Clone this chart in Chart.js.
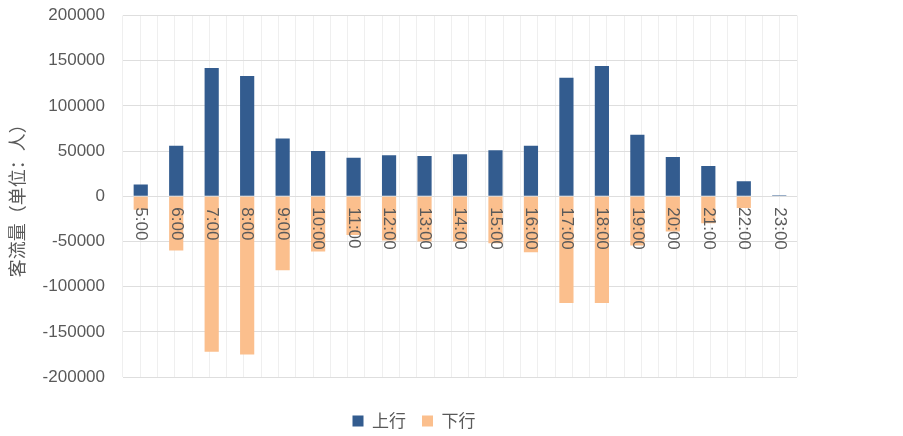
<!DOCTYPE html>
<html>
<head>
<meta charset="utf-8">
<script src="https://cdn.jsdelivr.net/npm/chart.js@4/dist/chart.umd.min.js"></script>
<style>
  html, body { margin: 0; padding: 0; background: #fff; }
  #wrap { width: 903px; height: 436px; }
</style>
</head>
<body>
<div id="wrap"><canvas id="myChart" width="903" height="436"></canvas></div>
<script>
'use strict';

// data
var categories = ['5:00', '6:00', '7:00', '8:00', '9:00', '10:00', '11:00', '12:00', '13:00', '14:00',
  '15:00', '16:00', '17:00', '18:00', '19:00', '20:00', '21:00', '22:00', '23:00'];
var upValues = [13000, 56000, 142000, 133000, 64000, 50000, 42500, 45500, 44500, 46500,
  51000, 56000, 131000, 144000, 68000, 43500, 33500, 16500, 1000];
var downValues = [-15000, -60000, -172000, -175000, -82000, -61000, -43000, -49000, -50000, -50000,
  -52000, -62000, -118000, -118000, -54500, -39000, -30000, -13000, 0];
var seriesNames = ['上行', '下行'];
var yTitle = '客流量（单位：人）';

var grey = '#595959';

// hour labels sit on the zero line, turned clockwise
var hourLabels = {
  id: 'hourLabels',
  afterDatasetsDraw: function (chart) {
    var ctx = chart.ctx;
    var xs = chart.scales.x;
    var y0 = chart.scales.y.getPixelForValue(0);
    ctx.save();
    ctx.font = '17px "Liberation Sans"';
    ctx.fillStyle = grey;
    ctx.textAlign = 'left';
    ctx.textBaseline = 'middle';
    for (var i = 0; i < categories.length; i++) {
      ctx.save();
      ctx.translate(xs.getPixelForValue(i), y0 + 11);
      ctx.rotate(Math.PI / 2);
      ctx.fillText(categories[i], 0, 0);
      ctx.restore();
    }
    ctx.restore();
  }
};

var ctx = document.getElementById('myChart').getContext('2d');
// eslint-disable-next-line no-undef, no-unused-vars
var chart = new Chart(ctx, {
  type: 'bar',
  data: {
    labels: categories,
    datasets: [{
      label: seriesNames[0],
      data: upValues,
      backgroundColor: '#335c8f'
    }, {
      label: seriesNames[1],
      data: downValues,
      backgroundColor: '#fbbf8d'
    }]
  },
  options: {
    responsive: false,
    animation: false,
    // left padding is uneven on purpose so the legend lands where it is in the picture
    layout: { padding: { top: 15.5, right: 106, left: 31, bottom: -3.5 } },
    datasets: { bar: { categoryPercentage: 1, barPercentage: 0.4 } },
    scales: {
      x: {
        display: false,
        stacked: true
      },
      // only there to give the half-category vertical gridlines
      xg: {
        type: 'linear',
        position: 'bottom',
        min: -0.5,
        max: 18.5,
        ticks: { display: false, stepSize: 0.5 },
        grid: { color: '#efefef', drawTicks: false },
        border: { display: false },
        afterFit: function (scale) { scale.height = 19.5; }
      },
      y: {
        stacked: true,
        min: -200000,
        max: 200000,
        ticks: {
          stepSize: 50000,
          padding: 18,
          color: grey,
          font: { family: '"Liberation Sans"', size: 17 },
          callback: function (v) { return String(v); }
        },
        grid: { color: '#dedede', drawTicks: false },
        border: { display: false },
        title: {
          display: true,
          text: yTitle,
          color: grey,
          padding: { top: -25, bottom: 0 },
          font: { family: '"Noto Sans CJK SC"', size: 18 }
        },
        afterFit: function (scale) {
          scale.width = 92;
          scale.paddingTop = 0;
          scale.paddingBottom = 0;
        }
      }
    },
    plugins: {
      legend: {
        position: 'bottom',
        labels: {
          boxWidth: 11,
          boxHeight: 11,
          padding: 16,
          color: grey,
          font: { family: '"Noto Sans CJK SC"', size: 17 }
        }
      },
      tooltip: { enabled: false }
    }
  },
  plugins: [hourLabels]
});
</script>
</body>
</html>
